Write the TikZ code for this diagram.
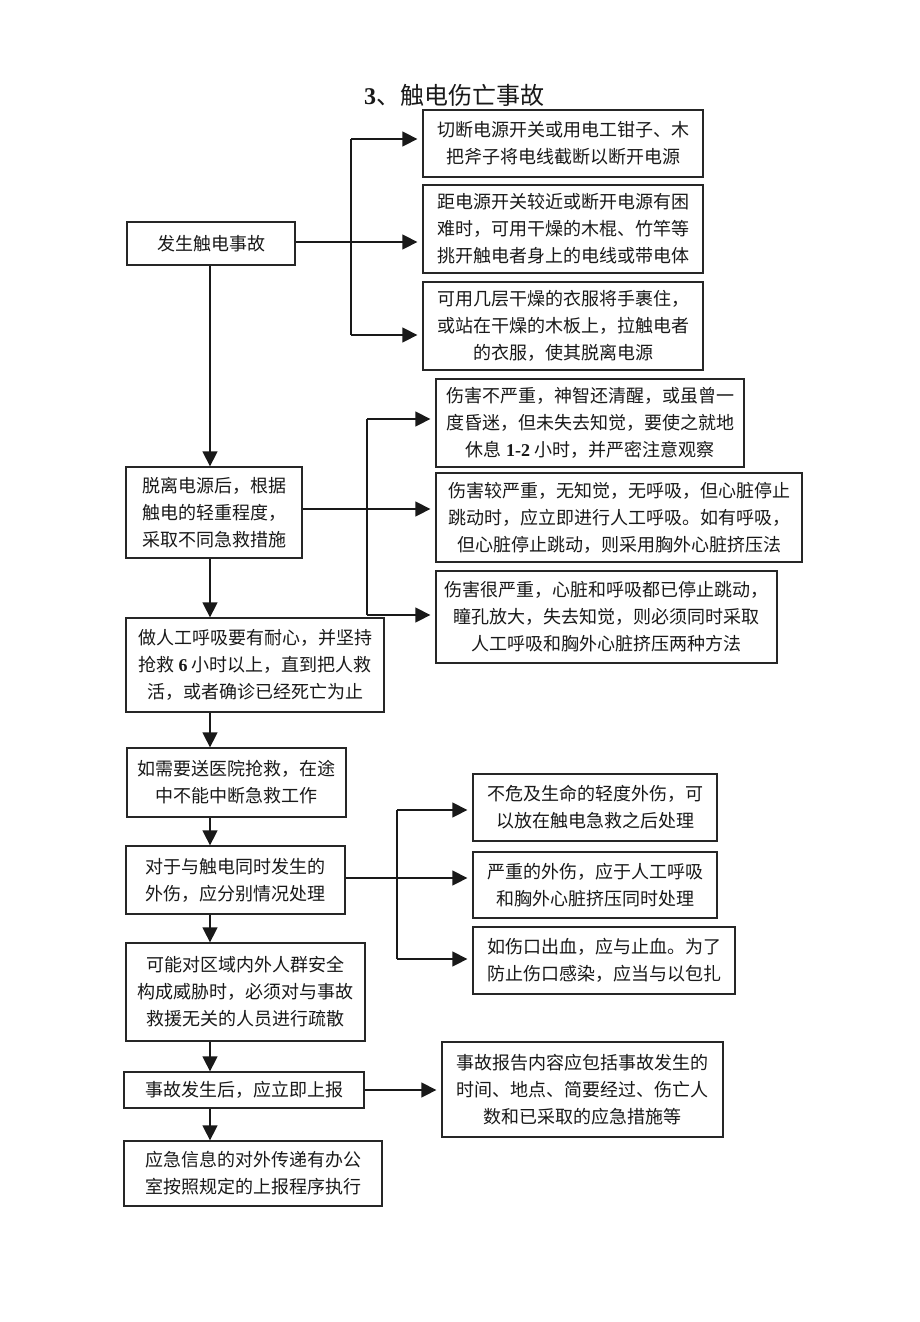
\documentclass[tikz,border=0pt]{standalone}
\usepackage{fontspec}
\setmainfont{Liberation Serif}
\newfontfamily\cjk{Noto Sans CJK SC}
\usetikzlibrary{arrows.meta}
\tikzset{
  box/.style={draw=black!85, line width=1.3pt, inner sep=0pt, align=center,
    font=\cjk\fontsize{18}{27}\selectfont, text=black!90},
  link/.style={draw=black!90, line width=1.4pt},
  arr/.style={link, -{Triangle[length=15pt,width=15pt]}, shorten >=5pt},
}
\newcommand\bx[6]{\node[box,minimum width={(#4-#2)*1pt},minimum height={(#5-#3)*1pt}] (#1) at ({(#2+#4)/2},{(#3+#5)/2}) {#6};}
\newcommand\dg[1]{{\rmfamily\bfseries #1}}
\begin{document}
\begin{tikzpicture}[x=1pt,y=-1pt]
\useasboundingbox[fill=white] (0,0) rectangle (920,1322);
\node[font=\fontsize{24}{28}\selectfont, text=black!90] (title) at (454,95) {\textbf{3}{\cjk 、触电伤亡事故}};

\bx{A}{127}{222}{295}{265}{发生触电事故}
\bx{B1}{423}{110}{703}{177}{切断电源开关或用电工钳子、木\\把斧子将电线截断以断开电源}
\bx{B2}{423}{185}{703}{273}{距电源开关较近或断开电源有困\\难时，可用干燥的木棍、竹竿等\\挑开触电者身上的电线或带电体}
\bx{B3}{423}{282}{703}{370}{可用几层干燥的衣服将手裹住，\\或站在干燥的木板上，拉触电者\\的衣服，使其脱离电源}
\bx{C}{126}{467}{302}{558}{脱离电源后，根据\\触电的轻重程度，\\采取不同急救措施}
\bx{D1}{436}{379}{744}{467}{伤害不严重，神智还清醒，或虽曾一\\度昏迷，但未失去知觉，要使之就地\\休息 \dg{1-2} 小时，并严密注意观察}
\bx{D2}{436}{473}{802}{562}{伤害较严重，无知觉，无呼吸，但心脏停止\\跳动时，应立即进行人工呼吸。如有呼吸，\\但心脏停止跳动，则采用胸外心脏挤压法}
\bx{D3}{436}{571}{777}{663}{伤害很严重，心脏和呼吸都已停止跳动，\\瞳孔放大，失去知觉，则必须同时采取\\人工呼吸和胸外心脏挤压两种方法}
\bx{E}{126}{618}{384}{712}{做人工呼吸要有耐心，并坚持\\抢救 \dg{6} 小时以上，直到把人救\\活，或者确诊已经死亡为止}
\bx{F}{127}{748}{346}{817}{如需要送医院抢救，在途\\中不能中断急救工作}
\bx{G}{126}{846}{345}{914}{对于与触电同时发生的\\外伤，应分别情况处理}
\bx{H1}{473}{774}{717}{841}{不危及生命的轻度外伤，可\\以放在触电急救之后处理}
\bx{H2}{473}{852}{717}{918}{严重的外伤，应于人工呼吸\\和胸外心脏挤压同时处理}
\bx{H3}{473}{927}{735}{994}{如伤口出血，应与止血。为了\\防止伤口感染，应当与以包扎}
\bx{I}{126}{943}{365}{1041}{可能对区域内外人群安全\\构成威胁时，必须对与事故\\救援无关的人员进行疏散}
\bx{J}{124}{1072}{364}{1108}{事故发生后，应立即上报}
\bx{K}{442}{1042}{723}{1137}{事故报告内容应包括事故发生的\\时间、地点、简要经过、伤亡人\\数和已采取的应急措施等}
\bx{L}{124}{1141}{382}{1206}{应急信息的对外传递有办公\\室按照规定的上报程序执行}

% branch 1
\coordinate (t1) at (351,139);
\coordinate (t2) at (351,242);
\coordinate (t3) at (351,335);
\draw[link] (t1) -- (t3);
\draw[arr] (t1) -- (t1 -| B1.west);
\draw[arr] (A.east |- t2) -- (t2 -| B2.west);
\draw[arr] (t3) -- (t3 -| B3.west);

% branch 2
\coordinate (u1) at (367,419);
\coordinate (u2) at (367,509);
\coordinate (u3) at (367,615);
\draw[link] (u1) -- (u3);
\draw[arr] (u1) -- (u1 -| D1.west);
\draw[arr] (C.east |- u2) -- (u2 -| D2.west);
\draw[arr] (u3) -- (u3 -| D3.west);

% branch 3
\coordinate (v1) at (397,810);
\coordinate (v2) at (397,878);
\coordinate (v3) at (397,959);
\draw[link] (v1) -- (v3);
\draw[arr] (v1) -- (v1 -| H1.west);
\draw[arr] (G.east |- v2) -- (v2 -| H2.west);
\draw[arr] (v3) -- (v3 -| H3.west);

% report
\coordinate (w) at (364,1090);
\draw[arr] (J.east |- w) -- (w -| K.west);

% spine
\coordinate (sx) at (210,0);
\draw[arr, shorten >=0pt] (A.south -| sx) -- (C.north -| sx);
\draw[arr, shorten >=0pt] (C.south -| sx) -- (E.north -| sx);
\draw[arr, shorten >=0pt] (E.south -| sx) -- (F.north -| sx);
\draw[arr, shorten >=0pt] (F.south -| sx) -- (G.north -| sx);
\draw[arr, shorten >=0pt] (G.south -| sx) -- (I.north -| sx);
\draw[arr, shorten >=0pt] (I.south -| sx) -- (J.north -| sx);
\draw[arr, shorten >=0pt] (J.south -| sx) -- (L.north -| sx);
\end{tikzpicture}
\end{document}
